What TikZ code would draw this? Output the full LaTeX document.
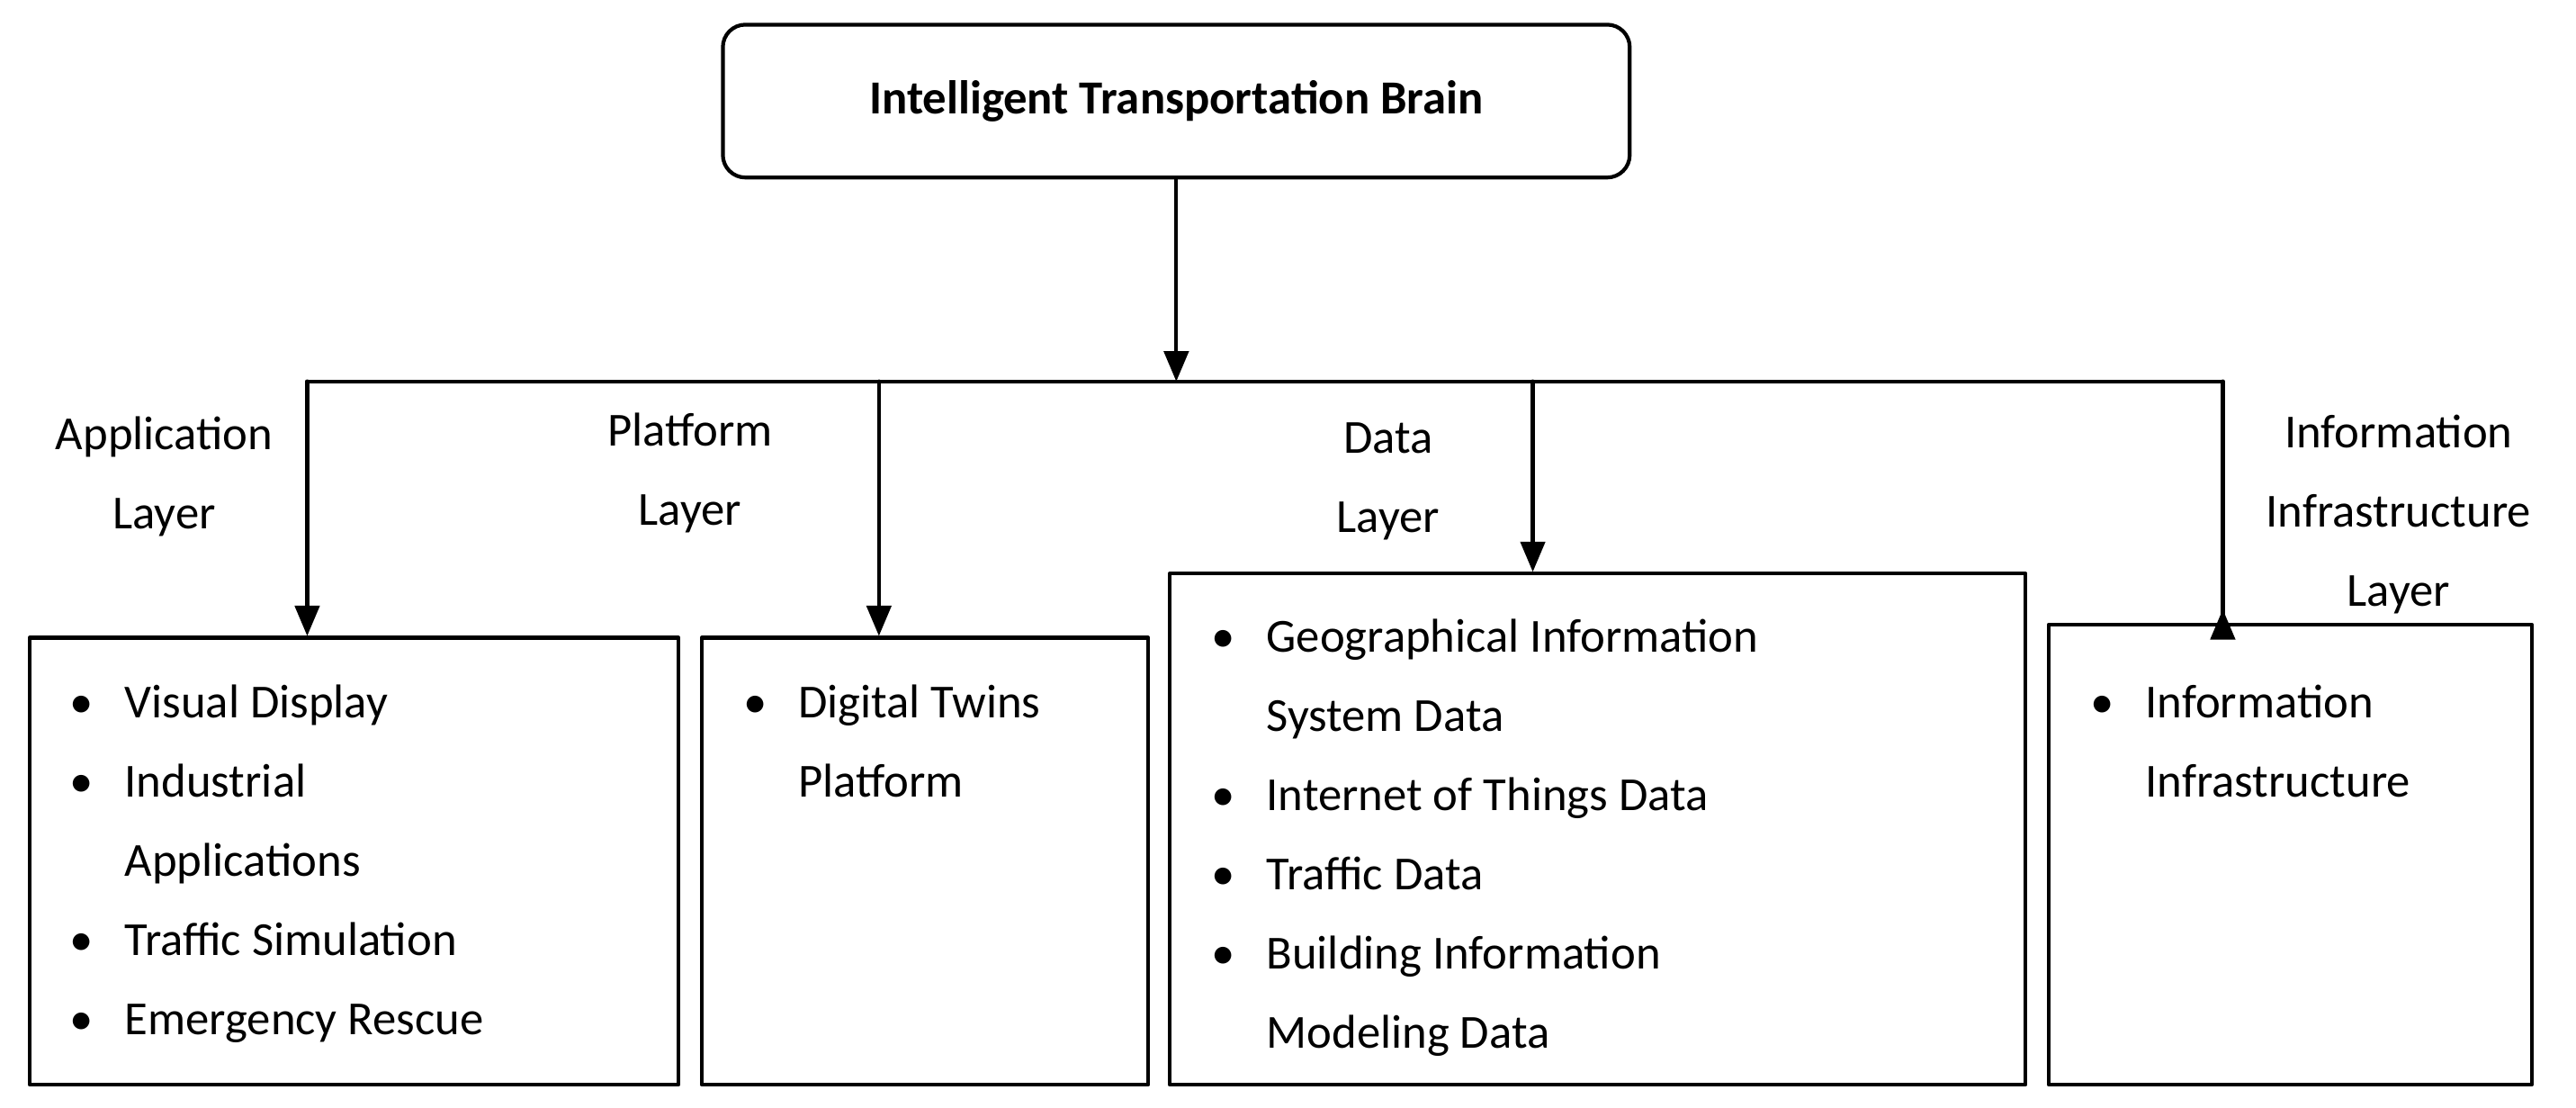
\documentclass[tikz,border=0pt]{standalone}
\usepackage{fontspec}
\setmainfont{Carlito}
\usetikzlibrary{arrows}
\newcommand{\itm}[1]{\textbullet&#1}
\newenvironment{blist}{\begin{tabular}[t]{@{}l@{\hspace{0.35cm}}l@{}}}{\end{tabular}}
\tikzset{
  box/.style={draw,line width=1.2pt,inner sep=0pt},
  lbl/.style={align=center,font=\fontsize{15}{25}\selectfont},
  items/.style={anchor=base west,inner sep=0pt,font=\fontsize{15}{25}\selectfont},
}
\def\u{0.01826cm}
\begin{document}
\begin{tikzpicture}[line cap=round,line join=round,>=triangle 45,x=0.01826cm,y=-0.01826cm]
\useasboundingbox (0,0) rectangle (1568,674);
\renewcommand{\arraystretch}{1}
\node[box,rounded corners=0.25cm,minimum width=552*\u,minimum height=93*\u,font=\fontsize{15}{18}\selectfont\bfseries] (brain) at (716,61.5) {Intelligent Transportation Brain};
\node[box,minimum width=395*\u,minimum height=272*\u] (app) at (215.5,524) {};
\node[box,minimum width=272*\u,minimum height=272*\u] (plat) at (563,524) {};
\node[box,minimum width=521*\u,minimum height=311*\u] (data) at (972.5,504.5) {};
\node[box,minimum width=294*\u,minimum height=280*\u] (info) at (1394,520) {};
% junctions
\coordinate (j) at (716,232);
\coordinate (j1) at (187,232);
\coordinate (j2) at (535,232);
\coordinate (j3) at (933,232);
\coordinate (j4) at (1353,232);
\draw[->,line width=1.2pt] (brain) -- (j);
\draw[line width=1.2pt] (j1) -- (j4);
\draw[->,line width=1.2pt] (j1) -- (app.north -| j1);
\draw[->,line width=1.2pt] (j2) -- (plat.north -| j2);
\draw[->,line width=1.2pt] (j3) -- (data.north -| j3);
\draw[->,line width=1.2pt] (j4) -- (info.north -| j4) ++(0,-8);
% layer labels
\node[lbl] (lapp) at (100,290) {Application\\Layer};
\node[lbl] (lplat) at (420,288) {Platform\\Layer};
\node[lbl] (ldata) at (845,293) {Data\\Layer};
\node[lbl] (linfo) at (1460,313) {Information\\Infrastructure\\Layer};
% items
\node[items] (tapp) at (42,437) {\begin{blist}\itm{Visual Display}\\\itm{Industrial}\\&Applications\\\itm{Traffic Simulation}\\\itm{Emergency Rescue}\end{blist}};
\node[items] (tplat) at (452,437) {\begin{blist}\itm{Digital Twins}\\&Platform\end{blist}};
\node[items] (tdata) at (737,397) {\begin{blist}\itm{Geographical Information}\\&System Data\\\itm{Internet of Things Data}\\\itm{Traffic Data}\\\itm{Building Information}\\&Modeling Data\end{blist}};
\node[items] (tinfo) at (1272,437) {\begin{blist}\itm{Information}\\&Infrastructure\end{blist}};
\end{tikzpicture}
\end{document}
